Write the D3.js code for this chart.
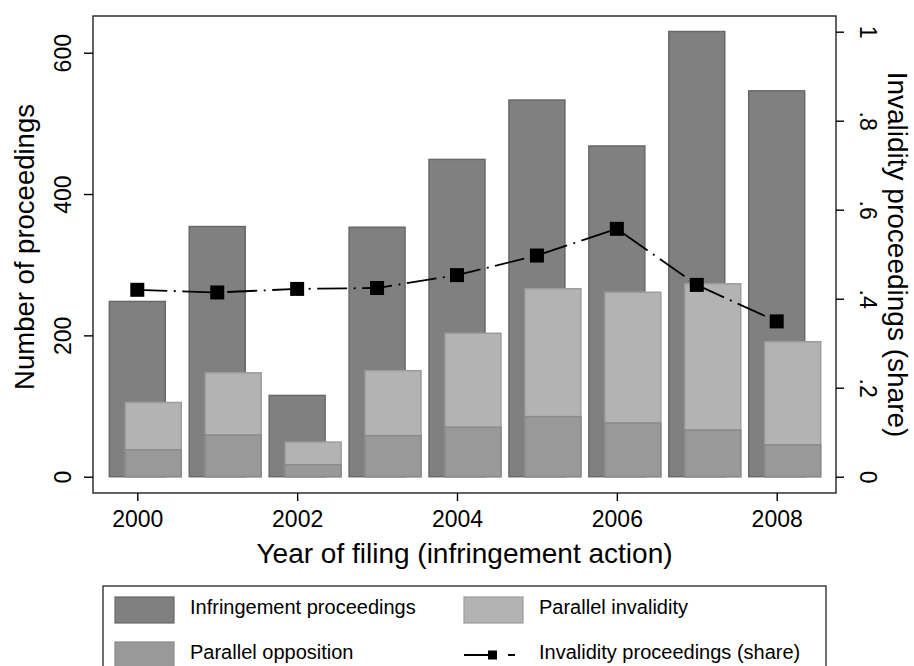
<!DOCTYPE html>
<html>
<head>
<meta charset="utf-8">
<script src="https://cdn.jsdelivr.net/npm/d3@7"></script>
<style>
  html, body { margin: 0; padding: 0; background: #fff; }
  svg { display: block; font-family: "Liberation Sans", Arial, Helvetica, sans-serif; }
</style>
</head>
<body>
<svg id="chart" width="914" height="666"></svg>
<script>
// ---- data ----
const years = [2000, 2001, 2002, 2003, 2004, 2005, 2006, 2007, 2008];
const infringement = [248, 354, 115, 353, 449, 533, 468, 630, 546];
const parallelInvalidity = [105, 147, 49, 150, 203, 266, 261, 273, 191];
const parallelOpposition = [38, 59, 17, 58, 70, 85, 76, 66, 45];
const invalidityShare = [0.420, 0.414, 0.422, 0.424, 0.453, 0.497, 0.557, 0.431, 0.349];

const xTicks = [2000, 2002, 2004, 2006, 2008];
const xTickLabels = ["2000", "2002", "2004", "2006", "2008"];
const yLeftTicks = [0, 200, 400, 600];
const yLeftTickLabels = ["0", "200", "400", "600"];
const yRightTicks = [0, 0.2, 0.4, 0.6, 0.8, 1];
const yRightTickLabels = ["0", ".2", ".4", ".6", ".8", "1"];

const legendItems = [
  { label: "Infringement proceedings", type: "bar", key: "inf" },
  { label: "Parallel invalidity", type: "bar", key: "inv" },
  { label: "Parallel opposition", type: "bar", key: "opp" },
  { label: "Invalidity proceedings (share)", type: "line", key: "share" }
];

// ---- layout ----
const frame = { left: 93, top: 16, right: 836, bottom: 493 };
const styles = {
  inf: { fill: "#808080", stroke: "#686868" },
  inv: { fill: "#b3b3b3", stroke: "#9c9c9c" },
  opp: { fill: "#999999", stroke: "#8a8a8a" }
};
const barW = 0.7, offset = 0.2;

const svg = d3.select("#chart");

const x = d3.scaleLinear().domain([2000, 2008]).range([137.3, 776.7]);
const y = d3.scaleLinear().domain([0, 600]).range([476.7, 52.7]);
const y2 = d3.scaleLinear().domain([0, 1]).range([476.7, 31.7]);

// frame
svg.append("rect")
  .attr("x", frame.left).attr("y", frame.top)
  .attr("width", frame.right - frame.left).attr("height", frame.bottom - frame.top)
  .attr("fill", "none").attr("stroke", "#222").attr("stroke-width", 1.4);

// bars
function drawBars(values, shift, st) {
  svg.append("g").selectAll("rect").data(values).join("rect")
    .attr("x", (d, i) => x(years[i] + shift - barW / 2))
    .attr("width", x(2000 + barW) - x(2000))
    .attr("y", d => y(d))
    .attr("height", d => y(0) - y(d))
    .attr("fill", st.fill).attr("stroke", st.stroke).attr("stroke-width", 1.5);
}
drawBars(infringement, 0, styles.inf);
drawBars(parallelInvalidity, offset, styles.inv);
drawBars(parallelOpposition, offset, styles.opp);

// share line
const line = d3.line().x((d, i) => x(years[i])).y(d => y2(d));
svg.append("path").datum(invalidityShare)
  .attr("d", line).attr("fill", "none").attr("stroke", "#000")
  .attr("stroke-width", 1.8).attr("stroke-dasharray", "30,6.5,2,6.5");
const ms = 14;
svg.append("g").selectAll("rect").data(invalidityShare).join("rect")
  .attr("x", (d, i) => x(years[i]) - ms / 2).attr("y", d => y2(d) - ms / 2)
  .attr("width", ms).attr("height", ms).attr("fill", "#000");

// axes
const tickFont = 23;
const axL = svg.append("g").attr("transform", `translate(${frame.left},0)`)
  .call(d3.axisLeft(y).tickValues(yLeftTicks).tickFormat((d, i) => yLeftTickLabels[i]).tickSize(9).tickSizeOuter(0));
axL.select(".domain").remove();
axL.selectAll("line").attr("stroke", "#000").attr("stroke-width", 1.4);
axL.selectAll("text").attr("x", null).attr("dy", null)
  .attr("transform", "translate(-22,0) rotate(-90)")
  .attr("text-anchor", "middle").attr("font-size", tickFont).attr("fill", "#000")
  .attr("font-family", "Liberation Sans, Arial, sans-serif");

const axR = svg.append("g").attr("transform", `translate(${frame.right},0)`)
  .call(d3.axisRight(y2).tickValues(yRightTicks).tickFormat((d, i) => yRightTickLabels[i]).tickSize(8).tickSizeOuter(0));
axR.select(".domain").remove();
axR.selectAll("line").attr("stroke", "#000").attr("stroke-width", 1.4);
axR.selectAll("text").attr("x", null).attr("dy", null)
  .attr("transform", "translate(24,0) rotate(90)")
  .attr("text-anchor", "middle").attr("font-size", tickFont).attr("fill", "#000")
  .attr("font-family", "Liberation Sans, Arial, sans-serif");

const axB = svg.append("g").attr("transform", `translate(0,${frame.bottom})`)
  .call(d3.axisBottom(x).tickValues(xTicks).tickFormat((d, i) => xTickLabels[i]).tickSize(8).tickSizeOuter(0));
axB.select(".domain").remove();
axB.selectAll("line").attr("stroke", "#000").attr("stroke-width", 1.4);
axB.selectAll("text").attr("y", 33.7).attr("dy", null)
  .attr("font-size", tickFont).attr("fill", "#000")
  .attr("font-family", "Liberation Sans, Arial, sans-serif");

// axis titles
const titleFont = 28;
const midY = (frame.top + frame.bottom) / 2;
svg.append("text").attr("transform", `translate(34,247) rotate(-90)`)
  .attr("text-anchor", "middle").attr("font-size", 27.5).text("Number of proceedings");
svg.append("text").attr("transform", `translate(888,${midY}) rotate(90)`)
  .attr("text-anchor", "middle").attr("font-size", titleFont).text("Invalidity proceedings (share)");
svg.append("text").attr("x", (frame.left + frame.right) / 2).attr("y", 563.3)
  .attr("text-anchor", "middle").attr("font-size", titleFont).text("Year of filing (infringement action)");

// legend
const lg = svg.append("g");
lg.append("rect").attr("x", 103).attr("y", 586).attr("width", 723).attr("height", 100)
  .attr("fill", "#fff").attr("stroke", "#333").attr("stroke-width", 1.4);
const colX = [115, 464], rowY = [597, 642], sw = { w: 59, h: 26 };
legendItems.forEach((it, i) => {
  const cx = colX[i % 2], ry = rowY[Math.floor(i / 2)];
  if (it.type === "bar") {
    lg.append("rect").attr("x", cx).attr("y", ry).attr("width", sw.w).attr("height", sw.h)
      .attr("fill", styles[it.key].fill).attr("stroke", styles[it.key].stroke).attr("stroke-width", 1.2);
  } else {
    const my = ry + sw.h / 2;
    lg.append("line").attr("x1", cx).attr("x2", cx + 51).attr("y1", my).attr("y2", my)
      .attr("stroke", "#000").attr("stroke-width", 1.8).attr("stroke-dasharray", "30,14,7,20");
    lg.append("rect").attr("x", cx + 24).attr("y", my - 4.5).attr("width", 9).attr("height", 9).attr("fill", "#000");
  }
  lg.append("text").attr("x", cx + sw.w + 16).attr("y", ry + 17)
    .attr("font-size", 20).attr("fill", "#000").text(it.label);
});
</script>
</body>
</html>
